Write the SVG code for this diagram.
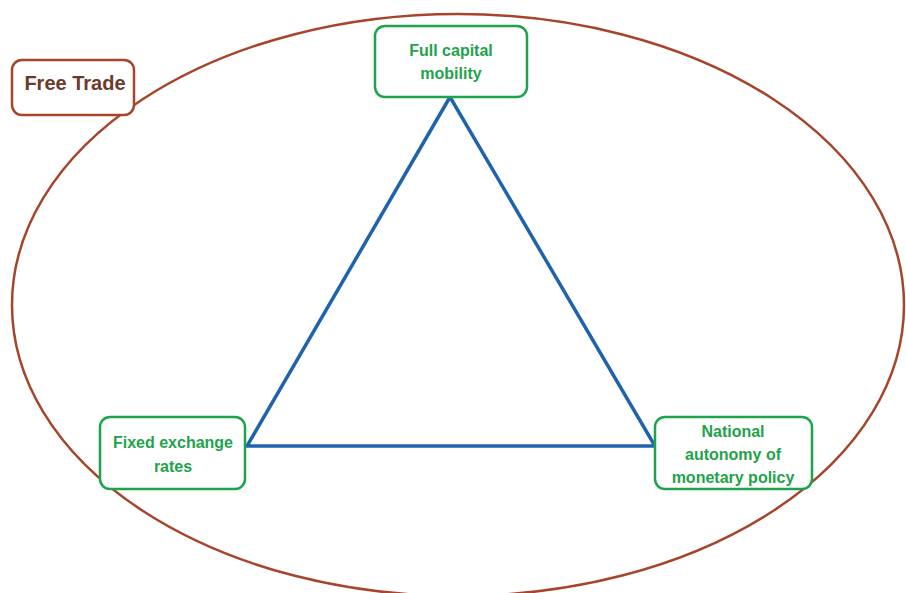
<svg xmlns="http://www.w3.org/2000/svg" width="906" height="593" viewBox="0 0 906 593">
<style>
.box{fill:#fff;stroke:#1ea34b;stroke-width:2.5}
.lbl{font-family:"Liberation Sans",Arial,sans-serif;font-weight:bold;font-size:16px;fill:#1ea34b;text-anchor:middle}
.tri{fill:none;stroke:#1f62ad;stroke-width:3.5;stroke-linejoin:miter}
</style>
<rect width="906" height="593" fill="#fff"/>
<g id="free-trade-region">
<ellipse cx="458" cy="305" rx="446" ry="291" fill="none" stroke="#a6452b" stroke-width="2.5"/>
</g>
<g id="connectors">
<polygon class="tri" points="450,97 247,446 655,446"/>
</g>
<g id="free-trade">
<rect x="12" y="60" width="122" height="55" rx="10" fill="#fff" stroke="#a6452b" stroke-width="2.5"/>
<text x="75" y="90" font-family="Liberation Sans,Arial,sans-serif" font-weight="bold" font-size="20" fill="#6b3a2c" text-anchor="middle">Free Trade</text>
</g>
<g id="capital">
<rect class="box" x="375" y="26" width="152" height="71" rx="10"/>
<text class="lbl" x="451" y="56">Full capital</text>
<text class="lbl" x="451" y="79">mobility</text>
</g>
<g id="fixed">
<rect class="box" x="100" y="417" width="145" height="72" rx="10"/>
<text class="lbl" x="173" y="448">Fixed exchange</text>
<text class="lbl" x="173" y="472">rates</text>
</g>
<g id="national">
<rect class="box" x="655" y="417" width="157" height="72" rx="10"/>
<text class="lbl" x="733" y="437">National</text>
<text class="lbl" x="733" y="460">autonomy of</text>
<text class="lbl" x="733" y="483">monetary policy</text>
</g>
</svg>
